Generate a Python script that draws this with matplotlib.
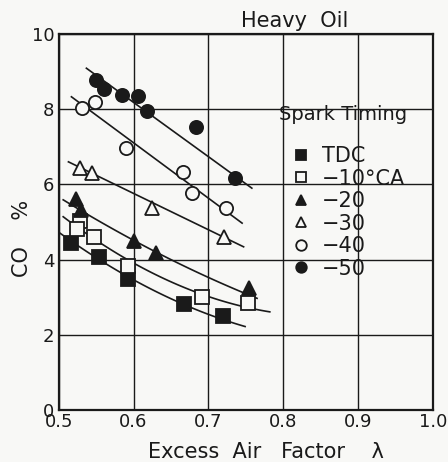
import numpy as np
import matplotlib.pyplot as plt
from matplotlib.patches import Rectangle

# CO (%) vs excess air factor, heavy oil, per spark timing
tdc_x = [0.516, 0.554, 0.592, 0.667, 0.719]
tdc_y = [4.45, 4.08, 3.48, 2.81, 2.50]
m10_x = [0.528, 0.524, 0.547, 0.593, 0.691, 0.753]
m10_y = [5.03, 4.81, 4.59, 3.83, 3.01, 2.84]
m20_x = [0.523, 0.530, 0.601, 0.630, 0.754]
m20_y = [5.60, 5.32, 4.49, 4.17, 3.24]
m30_x = [0.528, 0.545, 0.624, 0.721]
m30_y = [6.43, 6.31, 5.36, 4.59]
m40_x = [0.531, 0.549, 0.590, 0.666, 0.678, 0.723]
m40_y = [8.04, 8.20, 6.98, 6.34, 5.78, 5.36]
m50_x = [0.550, 0.561, 0.584, 0.606, 0.618, 0.683, 0.736]
m50_y = [8.78, 8.53, 8.37, 8.35, 7.96, 7.52, 6.16]

# hand drawn trend lines
tdc_lx, tdc_ly = [0.502, 0.625, 0.749], [4.70, 3.20, 2.22]
m10_lx, m10_ly = [0.506, 0.640, 0.782], [5.14, 3.50, 2.61]
m20_lx, m20_ly = [0.506, 0.630, 0.765], [5.59, 4.20, 2.97]
m30_lx, m30_ly = [0.513, 0.747], [6.60, 4.34]
m40_lx, m40_ly = [0.517, 0.745], [8.33, 4.97]
m50_lx, m50_ly = [0.537, 0.758], [9.09, 5.90]

labels = ["TDC", "\u221210\u00b0CA", "\u221220", "\u221230", "\u221240", "\u221250"]
ink = "#1a1a1a"
bg = "#f8f8f6"

plt.rcParams["font.family"] = "DejaVu Sans"
fig = plt.figure(figsize=(4.48, 4.62), dpi=100, facecolor=bg)
ax = fig.add_axes([58.7 / 448, 1 - 410 / 462, (433 - 58.7) / 448, (410 - 34) / 462])
ax.set_facecolor(bg)

series = [
    (tdc_x, tdc_y, tdc_lx, tdc_ly, "s", ink),
    (m10_x, m10_y, m10_lx, m10_ly, "s", bg),
    (m20_x, m20_y, m20_lx, m20_ly, "^", ink),
    (m30_x, m30_y, m30_lx, m30_ly, "^", bg),
    (m40_x, m40_y, m40_lx, m40_ly, "o", bg),
    (m50_x, m50_y, m50_lx, m50_ly, "o", ink),
]

for (x, y, lx, ly, mk, fc), lab in zip(series, labels):
    # smooth curve through the read line points
    if len(lx) > 2:
        c = np.polyfit(lx, ly, 2)
        xs = np.linspace(lx[0], lx[-1], 50)
        ax.plot(xs, np.polyval(c, xs), color=ink, lw=1.2, zorder=2)
    else:
        ax.plot(lx, ly, color=ink, lw=1.2, zorder=2)
    ax.plot(x, y, ls="none", marker=mk, ms=9.5, mfc=fc, mec=ink, mew=1.3,
            label=lab, zorder=3)

ax.set_xlim(0.5, 1.0)
ax.set_ylim(0, 10)
ax.set_xticks([0.5, 0.6, 0.7, 0.8, 0.9, 1.0])
ax.set_xticklabels(["0.5", "0.6", "0.7", "0.8", "0.9", "1.0"])
ax.set_yticks([0, 2, 4, 6, 8, 10])
ax.grid(True, color=ink, lw=1.0, zorder=0)
ax.tick_params(length=0, labelsize=13, colors=ink)
ax.tick_params(axis="y", pad=3)
ax.tick_params(axis="x", pad=2)
for s in ax.spines.values():
    s.set_linewidth(1.6)
    s.set_color(ink)

fig.text(266 / 448, 1 - 452 / 462, "Excess  Air   Factor    \u03bb", fontsize=15,
         color=ink, ha="center", va="center")
fig.text(22 / 448, 1 - 238 / 462, "CO    %", fontsize=15, color=ink,
         rotation=90, ha="center", va="center")
fig.text(295 / 448, 1 - 21 / 462, "Heavy  Oil", fontsize=15, color=ink,
         ha="center", va="center")

# blank box behind the legend hides the grid there
ax.add_patch(Rectangle((0.565, 0.30), 0.387, 0.524, transform=ax.transAxes,
                       facecolor=bg, edgecolor="none", zorder=1))
ax.text(0.761, 0.785, "Spark Timing", transform=ax.transAxes, fontsize=14,
        color=ink, ha="center", va="center", zorder=4)

leg = ax.legend(loc="upper left", bbox_to_anchor=(0.62, 0.702), fontsize=15,
                frameon=False, markerscale=0.8, handlelength=1.0,
                handletextpad=0.5, labelspacing=0.12, borderpad=0,
                borderaxespad=0)
for t in leg.get_texts():
    t.set_color(ink)

fig.savefig("out.png", dpi=100, facecolor=bg)
